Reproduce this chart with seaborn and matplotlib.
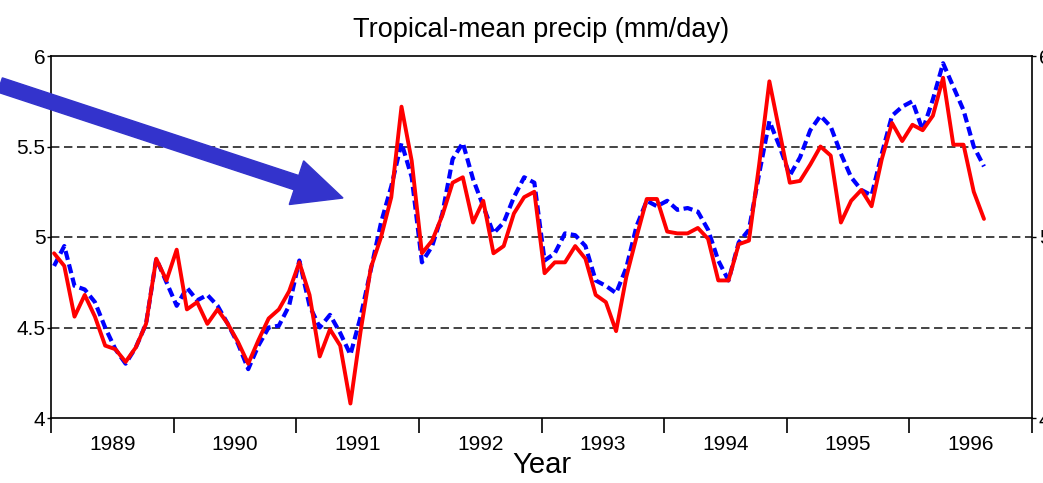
import numpy as np
import pandas as pd
import matplotlib
matplotlib.use("Agg")
import matplotlib.pyplot as plt
from matplotlib.patches import FancyArrow
from matplotlib.transforms import IdentityTransform
import seaborn as sns


# valores (mensal, jan/1989 ate ago/1996)
red_vals = [4.91, 4.84, 4.56, 4.68, 4.56, 4.40, 4.38, 4.31, 4.39, 4.52, 4.88, 4.76,
            4.93, 4.60, 4.64, 4.52, 4.60, 4.52, 4.42, 4.30, 4.43, 4.55, 4.60, 4.70,
            4.86, 4.68, 4.34, 4.49, 4.40, 4.08, 4.48, 4.83, 5.00, 5.22, 5.72, 5.42,
            4.91, 4.98, 5.12, 5.30, 5.33, 5.08, 5.20, 4.91, 4.95, 5.13, 5.22, 5.25,
            4.80, 4.86, 4.86, 4.95, 4.88, 4.68, 4.64, 4.48, 4.78, 5.00, 5.21, 5.21,
            5.03, 5.02, 5.02, 5.05, 4.99, 4.76, 4.76, 4.96, 4.98, 5.40, 5.86, 5.58,
            5.30, 5.31, 5.40, 5.50, 5.45, 5.08, 5.20, 5.26, 5.17, 5.43, 5.63, 5.53,
            5.62, 5.59, 5.67, 5.88, 5.51, 5.51, 5.25, 5.10]

blue_vals = [4.84, 4.95, 4.73, 4.71, 4.64, 4.50, 4.38, 4.30, 4.39, 4.52, 4.88, 4.75,
             4.62, 4.72, 4.65, 4.68, 4.62, 4.52, 4.41, 4.27, 4.40, 4.50, 4.51, 4.62,
             4.87, 4.62, 4.50, 4.57, 4.47, 4.35, 4.56, 4.82, 5.08, 5.28, 5.52, 5.33,
             4.86, 4.95, 5.13, 5.43, 5.52, 5.32, 5.17, 5.02, 5.08, 5.22, 5.33, 5.30,
             4.87, 4.91, 5.02, 5.01, 4.95, 4.76, 4.73, 4.69, 4.83, 5.06, 5.20, 5.17,
             5.20, 5.15, 5.16, 5.14, 5.04, 4.87, 4.76, 4.97, 5.04, 5.35, 5.64, 5.50,
             5.34, 5.44, 5.59, 5.67, 5.61, 5.46, 5.33, 5.26, 5.23, 5.46, 5.67, 5.72,
             5.75, 5.59, 5.76, 5.96, 5.83, 5.70, 5.50, 5.39]

years = [1989, 1990, 1991, 1992, 1993, 1994, 1995, 1996]
y_ticks = [4, 4.5, 5, 5.5, 6]
y_labels = ["4", "4.5", "5", "5.5", "6"]
grid_levels = [4.5, 5, 5.5]

t = 1989 + (np.arange(len(red_vals)) + 0.3) / 12
df = pd.DataFrame({"t": t, "red": red_vals, "blue": blue_vals})

sns.set_style("white")
plt.rcParams["font.family"] = ["Liberation Sans", "DejaVu Sans"]
plt.rcParams["text.color"] = "black"
plt.rcParams["xtick.color"] = "black"
plt.rcParams["ytick.color"] = "black"
plt.rcParams["axes.labelcolor"] = "black"

fig = plt.figure(figsize=(10.43, 4.83), dpi=100)
ax = fig.add_axes([51 / 1043, 1 - 418 / 483, 981 / 1043, 362 / 483])

# linhas de referencia tracejadas
for g in grid_levels:
    ax.axhline(g, color="#111111", lw=1.1, linestyle=(0, (5.5, 3)), zorder=1)

sns.lineplot(data=df, x="t", y="blue", ax=ax, color="#0000FF", lw=3,
             linestyle=(0, (2.2, 1.1)), zorder=3)
sns.lineplot(data=df, x="t", y="red", ax=ax, color="#FF0000", lw=2.8, zorder=4)

ax.set_xlim(1989, 1997)
ax.set_ylim(4, 6)

ax.set_yticks(y_ticks)
ax.set_yticklabels(y_labels)
ax.tick_params(axis="y", length=3, width=1, pad=1, labelsize=15, direction="out", left=True)

ax.set_xticks(range(1989, 1998))
ax.set_xticklabels([])
ax.set_xticks([y + 0.5 for y in years], minor=True)
ax.set_xticklabels([str(y) for y in years], minor=True)
ax.tick_params(axis="x", which="major", length=11, width=1.2, direction="out", bottom=True)
ax.tick_params(axis="x", which="minor", length=0, pad=12, labelsize=15)

ax.set_xlabel("Year", fontsize=21, labelpad=-2)
ax.set_ylabel("")
ax.set_title("Tropical-mean precip (mm/day)", fontsize=19.5, pad=14)

for s in ax.spines.values():
    s.set_visible(True)
    s.set_color("black")
    s.set_linewidth(1.2)

# eixo da direita (cortado na borda, como no original)
ax2 = ax.twinx()
ax2.set_ylim(4, 6)
ax2.set_yticks([4, 5, 6])
ax2.set_yticklabels(["4", "5", "6"])
ax2.tick_params(axis="y", length=3, width=1, pad=2, labelsize=15, direction="out")
for s in ax2.spines.values():
    s.set_visible(False)

# seta azul
arrow = FancyArrow(0, 483 - 85, 343, -113, width=15, head_width=46, head_length=49,
                   length_includes_head=True, color="#3333CC", transform=IdentityTransform(),
                   zorder=10)
fig.add_artist(arrow)

fig.savefig("out.png", dpi=100)
